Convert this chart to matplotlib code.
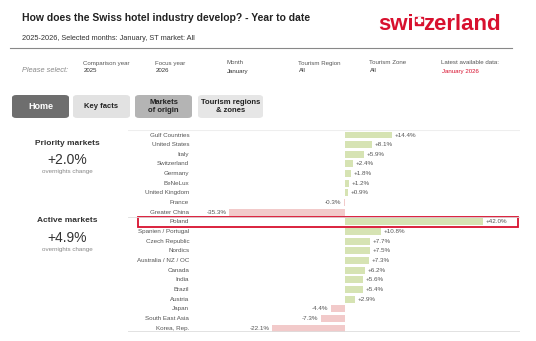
import matplotlib.pyplot as plt
from matplotlib.patches import Rectangle, FancyBboxPatch

# data
markets = ['Gulf Countries', 'United States', 'Italy', 'Switzerland', 'Germany',
           'BeNeLux', 'United Kingdom', 'France', 'Greater China', 'Poland',
           'Spanien / Portugal', 'Czech Republic', 'Nordics', 'Australia / NZ / OC',
           'Canada', 'India', 'Brazil', 'Austria', 'Japan', 'South East Asia',
           'Korea, Rep.']
change = [14.4, 8.1, 5.9, 2.4, 1.8, 1.2, 0.9, -0.3, -35.3, 42.0,
          10.8, 7.7, 7.5, 7.3, 6.2, 5.6, 5.4, 2.9, -4.4, -7.3, -22.1]
n_priority = 9
highlight = 'Poland'

filter_names = ['Comparison year', 'Focus year', 'Month', 'Tourism Region',
                'Tourism Zone', 'Latest available data:']
filter_values = ['2025', '2026', 'January', 'All', 'All', 'January 2026']

summary_titles = ['Priority markets', 'Active markets']
summary_values = ['+2.0%', '+4.9%']

buttons = ['Home', 'Key facts', 'Markets\nof origin', 'Tourism regions\n& zones']

W, H = 536, 341
RED = '#d8102e'
GREEN = '#d6e3b3'
PINK = '#f2caca'

plt.rcParams['font.family'] = ['Liberation Sans', 'DejaVu Sans']
fig = plt.figure(figsize=(W / 100, H / 100), dpi=100)


def fx(x):
    return x / W


def fy(y):
    return 1 - y / H


# header
fig.text(fx(22), fy(18), 'How does the Swiss hotel industry develop? - Year to date',
         fontsize=7.5, fontweight='bold', color='#222222', va='center')
fig.text(fx(22), fy(38), '2025-2026, Selected months: January, ST market: All',
         fontsize=5.3, color='#333333', va='center')
fig.add_artist(plt.Line2D([fx(10), fx(512)], [fy(48), fy(48)], color='#888888', lw=0.8))

# logo
fig.text(fx(414), fy(25), 'swi', fontsize=16, fontweight='bold', color=RED,
         ha='right', va='center')
fig.text(fx(423), fy(25), 'zerland', fontsize=16, fontweight='bold', color=RED,
         ha='left', va='center')
fig.add_artist(Rectangle((fx(415), fy(24.5)), fx(7.5), 7.5 / H, color=RED, transform=fig.transFigure))
fig.add_artist(Rectangle((fx(418), fy(22.5)), fx(1.5), 5.5 / H, color='white', transform=fig.transFigure))
fig.add_artist(Rectangle((fx(416), fy(20.5)), fx(5.5), 1.5 / H, color='white', transform=fig.transFigure))

# filter row
fig.text(fx(22), fy(71), 'Please select:', fontsize=5.3, style='italic', color='#888888', va='center')
for i, (name, val) in enumerate(zip(filter_names, filter_values)):
    x = 83 + i * 71.6
    fig.text(fx(x), fy(63), name, fontsize=4.4, color='#555555', va='center')
    fig.text(fx(x + 1), fy(71), val, fontsize=4.4, va='center',
             color=RED if i == len(filter_names) - 1 else '#333333')

# buttons
btn_x = [12, 73, 135, 198]
btn_w = [57, 57, 57, 65]
btn_face = ['#6e6e6e', '#e2e2e2', '#b4b4b4', '#e6e6e6']
btn_text = ['white', '#222222', '#222222', '#222222']
for label, x, w, fc, tc in zip(buttons, btn_x, btn_w, btn_face, btn_text):
    fig.add_artist(FancyBboxPatch((fx(x), fy(118)), fx(w), 23 / H,
                                  boxstyle='round,pad=0,rounding_size=0.008',
                                  fc=fc, ec='none', transform=fig.transFigure))
    fig.text(fx(x + w / 2), fy(106.5), label, fontsize=6.5 if label == 'Home' else 5.5,
             fontweight='bold', color=tc, ha='center', va='center', linespacing=1.2)

# summary on the left
for i, (title, val) in enumerate(zip(summary_titles, summary_values)):
    y0 = 143 + i * 78
    fig.text(fx(67), fy(y0), title, fontsize=6, fontweight='bold', color='#333333',
             ha='center', va='center')
    fig.text(fx(67), fy(y0 + 17), val, fontsize=10, color='#333333', ha='center', va='center')
    fig.text(fx(67), fy(y0 + 28), 'overnights change', fontsize=4.5, color='#888888',
             ha='center', va='center')

# bar chart
left, right, top, bottom = 128, 520, 130, 332
ax = fig.add_axes([fx(left), fy(bottom), fx(right - left), (bottom - top) / H])
ypos = list(range(len(markets)))
colors = [GREEN if v >= 0 else PINK for v in change]
ax.barh(ypos, change, height=0.72, color=colors)
ax.set_xlim(-66.0, 53.2)
ax.set_ylim(20.41, -0.52)
ax.axis('off')

for y, name, v in zip(ypos, markets, change):
    ax.text(-47.4, y, name, fontsize=4.5, color='#555555', ha='right', va='center')
    if v >= 0:
        ax.text(v + 0.8, y, f'+{v:.1f}%', fontsize=4.5, color='#555555', ha='left', va='center')
    else:
        ax.text(v - 0.8, y, f'{v:.1f}%', fontsize=4.5, color='#555555', ha='right', va='center')

ax.axhline(-0.52, color='#eeeeee', lw=0.8)
ax.axhline(20.4, color='#dddddd', lw=1.2)
ax.axhline(n_priority - 0.5, color='#dddddd', lw=0.6)

hi = markets.index(highlight)
ax.add_patch(Rectangle((-63.0, hi - 0.48), 115.5, 0.96, fill=False, ec=RED, lw=1.3,
                       clip_on=False))

fig.savefig('out.png', dpi=100)
